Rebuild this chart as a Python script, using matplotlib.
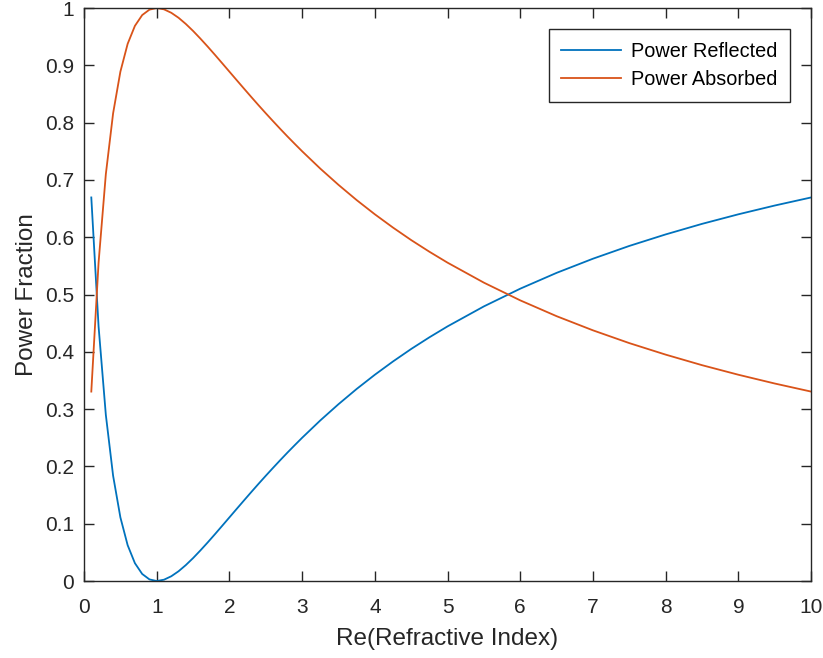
import matplotlib.pyplot as plt

plt.rcParams['font.family'] = ['Liberation Sans', 'DejaVu Sans']

# real part of refractive index
n_re = [0.1, 0.2, 0.3, 0.4, 0.5, 0.6, 0.7, 0.8, 0.9, 1.0,
        1.1, 1.2, 1.3, 1.4, 1.5, 1.6, 1.7, 1.8, 1.9, 2.0,
        2.1, 2.2, 2.3, 2.4, 2.5, 2.6, 2.7, 2.8, 2.9, 3.0,
        3.25, 3.5, 3.75, 4.0, 4.25, 4.5, 4.75, 5.0, 5.5, 6.0,
        6.5, 7.0, 7.5, 8.0, 8.5, 9.0, 9.5, 10.0]

reflected = [0.6694, 0.4444, 0.2899, 0.1837, 0.1111, 0.0625, 0.0311, 0.0123, 0.0028, 0.0,
             0.0023, 0.0083, 0.0170, 0.0278, 0.0400, 0.0533, 0.0672, 0.0816, 0.0963, 0.1111,
             0.1259, 0.1406, 0.1552, 0.1696, 0.1837, 0.1975, 0.2111, 0.2244, 0.2373, 0.2500,
             0.2803, 0.3086, 0.3352, 0.3600, 0.3832, 0.4050, 0.4253, 0.4444, 0.4793, 0.5102,
             0.5378, 0.5625, 0.5848, 0.6049, 0.6233, 0.6400, 0.6553, 0.6694]

absorbed = [0.3306, 0.5556, 0.7101, 0.8163, 0.8889, 0.9375, 0.9689, 0.9877, 0.9972, 1.0,
            0.9977, 0.9917, 0.9830, 0.9722, 0.9600, 0.9467, 0.9328, 0.9184, 0.9037, 0.8889,
            0.8741, 0.8594, 0.8448, 0.8304, 0.8163, 0.8025, 0.7889, 0.7756, 0.7627, 0.7500,
            0.7197, 0.6914, 0.6648, 0.6400, 0.6168, 0.5950, 0.5747, 0.5556, 0.5207, 0.4898,
            0.4622, 0.4375, 0.4152, 0.3951, 0.3767, 0.3600, 0.3447, 0.3306]

fig = plt.figure(figsize=(8.23, 6.58), dpi=100)
ax = fig.add_axes([0.1021, 0.117, 0.8834, 0.8708])

ax.plot(n_re, reflected, color='#0072BD', lw=1.3, label='Power Reflected')
ax.plot(n_re, absorbed, color='#D95319', lw=1.3, label='Power Absorbed')

ax.set_xlim(0, 10)
ax.set_ylim(0, 1)
ax.set_xticks(range(0, 11))
ax.set_yticks([i / 10 for i in range(11)])
ax.set_yticklabels(['0', '0.1', '0.2', '0.3', '0.4', '0.5', '0.6', '0.7', '0.8', '0.9', '1'])
ax.tick_params(direction='in', top=True, right=True, length=7, width=1,
               labelsize=15, colors='#262626')
ax.tick_params(axis='x', pad=12)
ax.tick_params(axis='y', pad=7)
for s in ax.spines.values():
    s.set_color('#262626')
    s.set_linewidth(1)

ax.set_xlabel('Re(Refractive Index)', fontsize=17.5, color='#262626', labelpad=8)
ax.set_ylabel('Power Fraction', fontsize=17.5, color='#262626', labelpad=5)

leg = ax.legend(loc='upper right', fontsize=14.3, fancybox=False, framealpha=1,
                edgecolor='#262626', handlelength=3.0, borderaxespad=1.05,
                labelspacing=0.45, handletextpad=0.5, borderpad=0.65)
leg.get_frame().set_linewidth(1)

fig.savefig('out.png', dpi=100)
